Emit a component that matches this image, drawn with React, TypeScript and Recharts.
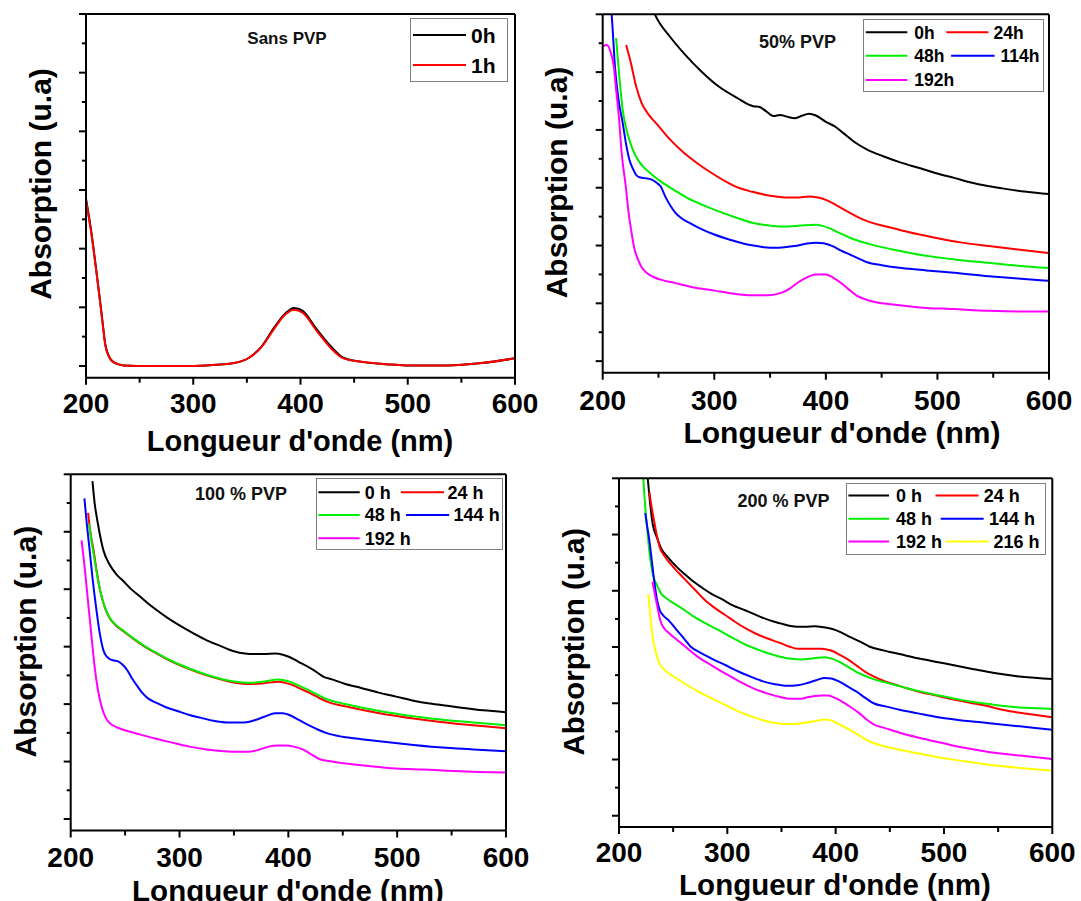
import React from 'react';
import { LineChart, Line, XAxis, YAxis, Legend } from 'recharts';

type Pt = [number, number];

// ---------- axes ----------
const X_TICKS = [200, 250, 300, 350, 400, 450, 500, 550, 600];
const X_DOMAIN: [number, number] = [200, 600];
const Y_TICKS = [0, 0.5, 1, 1.5, 2, 2.5, 3, 3.5, 4, 4.5, 5, 5.5, 6];
const Y_DOMAIN: [number, number] = [-0.2, 6];
const X_TITLE = "Longueur d'onde (nm)";
const Y_TITLE = 'Absorption (u.a)';

// ---------- data: [wavelength nm, absorption a.u.] ----------
// Sans PVP
const sans_0h: Pt[] = [[200,2.85],[205,2.28],[209,1.72],[213,1.13],[216,0.66],[218,0.37],[221,0.18],[226,0.06],[235,0.01],[260,0],[290,0],[312,0.01],[338,0.05],[352,0.14],[364,0.34],[376,0.67],[386,0.9],[394,0.99],[402,0.94],[415,0.63],[428,0.34],[440,0.14],[457,0.07],[480,0.03],[498,0.01],[537,0.01],[569,0.05],[600,0.13]];
const sans_1h: Pt[] = [[200,2.82],[205,2.25],[209,1.7],[213,1.11],[216,0.64],[218,0.35],[221,0.17],[226,0.06],[235,0.01],[260,0],[290,0],[312,0.01],[338,0.05],[352,0.14],[364,0.33],[376,0.65],[386,0.88],[394,0.96],[402,0.91],[415,0.6],[428,0.31],[440,0.13],[457,0.07],[480,0.03],[498,0.01],[537,0.01],[569,0.05],[600,0.13]];

// 50% PVP
const pvp50_0h: Pt[] = [[232,6.9],[240,6.35],[247,5.99],[260,5.62],[273,5.32],[288,5.02],[304,4.75],[320,4.56],[335,4.41],[340,4.4],[346,4.33],[353,4.24],[359,4.26],[365,4.23],[372,4.2],[378,4.24],[385,4.28],[391,4.25],[400,4.14],[408,4.06],[416,3.94],[425,3.8],[437,3.66],[452,3.54],[468,3.43],[484,3.34],[499,3.25],[515,3.17],[530,3.09],[545,3.03],[561,2.98],[580,2.93],[600,2.89]];
const pvp50_24h: Pt[] = [[221,5.47],[225,5.18],[230,4.75],[235,4.46],[241,4.27],[249,4.09],[260,3.84],[273,3.6],[285,3.42],[298,3.25],[310,3.11],[323,2.99],[334,2.93],[345,2.88],[355,2.85],[363,2.83],[374,2.83],[385,2.85],[393,2.83],[400,2.79],[410,2.69],[422,2.56],[431,2.47],[440,2.4],[454,2.33],[468,2.26],[484,2.19],[499,2.13],[522,2.05],[546,1.99],[572,1.93],[600,1.87]];
const pvp50_48h: Pt[] = [[212,5.59],[215,4.9],[218,4.34],[222,3.95],[227,3.66],[231,3.5],[236,3.37],[244,3.23],[252,3.11],[264,2.96],[276,2.82],[290,2.7],[304,2.59],[320,2.48],[335,2.39],[348,2.35],[360,2.33],[375,2.34],[391,2.36],[397,2.34],[403,2.3],[412,2.22],[422,2.13],[431,2.07],[440,2.02],[460,1.93],[484,1.84],[515,1.76],[546,1.7],[572,1.65],[600,1.61]];
const pvp50_114h: Pt[] = [[205,6.4],[208,6.0],[211,5.09],[214,4.55],[218,4.11],[221,3.75],[224,3.48],[227,3.33],[230,3.22],[233,3.18],[236,3.17],[240,3.16],[244,3.14],[248,3.09],[252,3.02],[256,2.85],[261,2.68],[265,2.57],[270,2.48],[279,2.38],[289,2.28],[300,2.19],[314,2.1],[325,2.04],[335,2.0],[345,1.97],[354,1.96],[363,1.97],[372,1.99],[382,2.03],[391,2.05],[398,2.04],[406,1.99],[414,1.91],[422,1.84],[430,1.77],[437,1.71],[450,1.66],[468,1.61],[490,1.57],[515,1.53],[546,1.47],[572,1.43],[600,1.39]];
const pvp50_192h: Pt[] = [[200.6,5.45],[203,5.47],[205,5.45],[207,5.35],[210,5.09],[212,4.7],[214.5,4.23],[217,3.6],[220.7,3.02],[223,2.6],[225.4,2.28],[228,1.98],[231.6,1.76],[235,1.62],[239.3,1.53],[245,1.46],[252,1.41],[265,1.35],[283,1.27],[300,1.22],[313,1.18],[325,1.15],[335,1.14],[348,1.14],[360,1.18],[368,1.26],[375,1.36],[383,1.45],[391,1.5],[400,1.5],[406,1.45],[413,1.36],[420,1.25],[428,1.13],[434,1.08],[440,1.04],[460,0.98],[484,0.93],[515,0.9],[546,0.87],[572,0.86],[600,0.86]];

// 100 % PVP
const pvp100_0h: Pt[] = [[220,5.88],[222,5.5],[225,5.14],[230,4.68],[236,4.42],[242,4.26],[249,4.13],[255,4.01],[262,3.9],[270,3.77],[278,3.65],[289,3.5],[300,3.37],[312,3.24],[325,3.11],[338,3.01],[350,2.92],[360,2.88],[369,2.87],[378,2.87],[388,2.88],[395,2.86],[401,2.82],[409,2.74],[417,2.66],[425,2.57],[432,2.48],[440,2.43],[451,2.36],[467,2.28],[483,2.2],[499,2.13],[515,2.06],[530,2.01],[546,1.97],[570,1.91],[600,1.86]];
const pvp100_24h: Pt[] = [[216,5.33],[218,5.0],[221,4.68],[224,4.3],[227,3.98],[231,3.7],[236,3.49],[242,3.36],[249,3.26],[258,3.13],[268,3.0],[280,2.87],[293,2.74],[309,2.61],[325,2.5],[340,2.42],[356,2.36],[366,2.35],[376,2.36],[391,2.39],[397,2.37],[404,2.33],[412,2.26],[420,2.19],[428,2.11],[436,2.04],[450,1.97],[467,1.9],[490,1.82],[515,1.75],[540,1.69],[570,1.63],[600,1.58]];
const pvp100_48h: Pt[] = [[217,5.14],[219,4.85],[221,4.62],[224,4.28],[227,3.98],[231,3.71],[236,3.5],[242,3.37],[249,3.27],[258,3.14],[268,3.01],[280,2.88],[293,2.75],[309,2.62],[325,2.51],[340,2.43],[356,2.38],[366,2.37],[376,2.39],[391,2.43],[397,2.41],[404,2.37],[412,2.3],[420,2.23],[428,2.15],[436,2.08],[450,2.01],[467,1.94],[490,1.86],[515,1.79],[540,1.73],[570,1.68],[600,1.63]];
const pvp100_144h: Pt[] = [[212.6,5.58],[215,5.1],[217.4,4.68],[220,4.2],[223.7,3.63],[227,3.2],[230,2.94],[233,2.83],[236.4,2.78],[240,2.76],[244,2.74],[248,2.68],[252,2.59],[256,2.46],[261.7,2.3],[266,2.19],[271,2.1],[279,2.02],[287,1.95],[298,1.88],[309,1.81],[320,1.76],[331,1.71],[344,1.68],[356.5,1.68],[363,1.69],[369,1.72],[378,1.78],[388,1.84],[395,1.84],[401,1.81],[410,1.72],[420,1.62],[428,1.55],[436,1.49],[450,1.43],[467,1.39],[490,1.34],[515,1.29],[545,1.24],[570,1.21],[600,1.18]];
const pvp100_192h: Pt[] = [[210,4.85],[213,4.35],[215.8,3.81],[219,3.2],[222,2.65],[225,2.25],[228.5,1.95],[232,1.77],[236.4,1.66],[242,1.6],[249,1.55],[262,1.48],[277.5,1.4],[293,1.33],[309,1.26],[325,1.21],[341,1.18],[352,1.17],[363,1.17],[372,1.2],[382,1.26],[390,1.28],[398,1.28],[405,1.26],[412,1.22],[420,1.14],[429,1.04],[440,1.0],[451,0.97],[475,0.92],[499,0.88],[525,0.86],[546,0.84],[575,0.82],[600,0.81]];

// 200 % PVP
const pvp200_0h: Pt[] = [[223,6.6],[226.5,6.0],[228.5,5.6],[231,5.2],[235,4.95],[239,4.75],[245,4.6],[253,4.43],[261,4.29],[269,4.16],[277,4.05],[285,3.95],[295,3.85],[304,3.75],[317,3.65],[330,3.54],[340,3.47],[349,3.42],[357,3.38],[365,3.36],[372,3.36],[381,3.37],[389,3.35],[397,3.32],[405,3.26],[412,3.19],[422,3.1],[431,3.01],[444,2.94],[460,2.87],[476,2.8],[492,2.74],[508,2.68],[524,2.62],[540,2.56],[556,2.51],[572,2.47],[600,2.43]];
const pvp200_24h: Pt[] = [[228,5.76],[230,5.5],[232.8,5.2],[235,4.98],[237.5,4.78],[242,4.62],[247,4.49],[255,4.32],[263,4.16],[271,4.0],[279,3.84],[288,3.7],[298,3.57],[307,3.45],[317,3.33],[326,3.24],[336,3.16],[343,3.11],[349,3.07],[357,3.01],[365,2.97],[375,2.97],[387,2.97],[393,2.95],[397,2.93],[404,2.86],[412,2.77],[420,2.66],[428,2.55],[436,2.47],[444,2.4],[460,2.3],[476,2.21],[492,2.14],[508,2.07],[524,2.01],[540,1.95],[555,1.88],[570,1.83],[585,1.79],[600,1.75]];
const pvp200_48h: Pt[] = [[219,6.5],[222.4,6.0],[224,5.55],[226.4,5.02],[228.5,4.62],[231,4.31],[235,4.1],[239,3.95],[245,3.85],[253,3.75],[261,3.65],[269,3.54],[280,3.42],[292,3.3],[304,3.17],[317,3.04],[330,2.94],[342.5,2.86],[355,2.8],[368,2.78],[380,2.8],[390,2.82],[397,2.79],[403,2.74],[411,2.65],[419,2.56],[427,2.49],[435,2.43],[444,2.38],[460,2.3],[476,2.22],[492,2.15],[508,2.09],[524,2.03],[540,1.99],[555,1.95],[575,1.92],[600,1.9]];
const pvp200_144h: Pt[] = [[224.2,5.38],[226,5.15],[228,4.9],[230.5,4.5],[232.8,4.13],[235,3.85],[237.5,3.66],[241,3.56],[245.5,3.48],[250,3.38],[253.4,3.3],[260,3.15],[266,3.01],[275,2.9],[285,2.8],[298,2.68],[310.7,2.56],[322,2.47],[333,2.39],[344,2.34],[355,2.31],[365,2.32],[374,2.36],[382,2.41],[390,2.45],[396,2.44],[403,2.39],[411,2.3],[419,2.21],[427,2.1],[435,2.0],[447,1.94],[460,1.88],[476,1.82],[492,1.76],[515,1.7],[540,1.65],[570,1.59],[600,1.53]];
const pvp200_192h: Pt[] = [[231,4.16],[233.5,3.9],[236,3.66],[238,3.48],[240.7,3.36],[246,3.25],[253.4,3.13],[263,2.98],[272.5,2.83],[285,2.68],[298,2.53],[311,2.39],[323.4,2.27],[336,2.18],[348.8,2.11],[358,2.08],[368,2.08],[375,2.11],[381,2.13],[387,2.14],[393,2.14],[400,2.09],[406,2.03],[414,1.93],[422,1.82],[428,1.72],[434.7,1.63],[447,1.55],[460,1.47],[476,1.39],[492,1.32],[508,1.25],[524,1.19],[540,1.14],[570,1.07],[600,1.01]];
const pvp200_216h: Pt[] = [[227,3.94],[229,3.55],[231,3.19],[233.5,2.95],[236,2.77],[239,2.66],[242.3,2.59],[250,2.48],[259.8,2.36],[272,2.22],[285,2.09],[298,1.97],[310.7,1.85],[323,1.76],[336,1.68],[347,1.64],[358.4,1.63],[370,1.65],[380.6,1.68],[390,1.71],[395,1.7],[400,1.66],[408,1.58],[415.6,1.5],[423,1.41],[431.5,1.32],[444,1.24],[460,1.17],[476,1.11],[492,1.05],[515,0.98],[540,0.91],[570,0.85],[600,0.8]];

// ---------- styling / layout ----------
const W = 1081;
const H = 901;
const FONT = "'Liberation Sans', Arial, Helvetica, sans-serif";
const C = { black: '#000000', red: '#ff0000', green: '#00ee00', blue: '#0000ff', magenta: '#ff00ff', yellow: '#ffff00' };

interface Series { name: string; color: string; data: Pt[] }
interface LegendPos { lx1: number; lx2: number; tx: number; ry: number }
interface PanelDef {
  title: string;
  series: Series[];
  plot: { l: number; t: number; r: number; b: number };
  xLabelDy: number;
  xTitle: { x: number; y: number; size: number };
  yTitle: { x: number; y: number; size: number };
  inner: { x: number; y: number; size: number };
  legend: { left: number; top: number; w: number; h: number; font: number; pos: LegendPos[] };
}

const panels: PanelDef[] = [
  {
    title: 'Sans PVP',
    series: [
      { name: '0h', color: C.black, data: sans_0h },
      { name: '1h', color: C.red, data: sans_1h },
    ],
    plot: { l: 86, t: 14, r: 515, b: 377.7 },
    xLabelDy: 35.5,
    xTitle: { x: 300, y: 451, size: 29 },
    yTitle: { x: 51, y: 184, size: 30 },
    inner: { x: 287, y: 44, size: 17 },
    legend: {
      left: 410, top: 18, w: 98, h: 64, font: 21,
      pos: [
        { lx1: 3, lx2: 56, tx: 61, ry: 17 },
        { lx1: 3, lx2: 56, tx: 61, ry: 47 },
      ],
    },
  },
  {
    title: '50% PVP',
    series: [
      { name: '0h', color: C.black, data: pvp50_0h },
      { name: '24h', color: C.red, data: pvp50_24h },
      { name: '48h', color: C.green, data: pvp50_48h },
      { name: '114h', color: C.blue, data: pvp50_114h },
      { name: '192h', color: C.magenta, data: pvp50_192h },
    ],
    plot: { l: 602.7, t: 14.3, r: 1049, b: 372.7 },
    xLabelDy: 37,
    xTitle: { x: 842, y: 443, size: 30 },
    yTitle: { x: 567, y: 182.5, size: 30 },
    inner: { x: 797.6, y: 48, size: 18 },
    legend: {
      left: 863, top: 19, w: 181, h: 73, font: 17.5,
      pos: [
        { lx1: 2.8, lx2: 44.3, tx: 51.2, ry: 13.3 },
        { lx1: 83.3, lx2: 125.4, tx: 130.6, ry: 13.3 },
        { lx1: 2.8, lx2: 44.3, tx: 51.2, ry: 36.7 },
        { lx1: 88.1, lx2: 131.6, tx: 137.5, ry: 36.7 },
        { lx1: 2.8, lx2: 44.3, tx: 51.2, ry: 61 },
      ],
    },
  },
  {
    title: '100 % PVP',
    series: [
      { name: '0 h', color: C.black, data: pvp100_0h },
      { name: '24 h', color: C.red, data: pvp100_24h },
      { name: '48 h', color: C.green, data: pvp100_48h },
      { name: '144 h', color: C.blue, data: pvp100_144h },
      { name: '192 h', color: C.magenta, data: pvp100_192h },
    ],
    plot: { l: 70.7, t: 474.3, r: 506, b: 830.5 },
    xLabelDy: 36.5,
    xTitle: { x: 288, y: 901, size: 29.5 },
    yTitle: { x: 36, y: 641.7, size: 30 },
    inner: { x: 241, y: 500, size: 18 },
    legend: {
      left: 316, top: 478, w: 186.5, h: 72, font: 18,
      pos: [
        { lx1: 2.4, lx2: 43.7, tx: 48.8, ry: 14.3 },
        { lx1: 84.9, lx2: 128, tx: 131.4, ry: 14.3 },
        { lx1: 2.4, lx2: 43.7, tx: 48.8, ry: 37 },
        { lx1: 90.1, lx2: 133.1, tx: 137.6, ry: 37 },
        { lx1: 2.4, lx2: 43.7, tx: 48.8, ry: 60.3 },
      ],
    },
  },
  {
    title: '200 % PVP',
    series: [
      { name: '0 h', color: C.black, data: pvp200_0h },
      { name: '24 h', color: C.red, data: pvp200_24h },
      { name: '48 h', color: C.green, data: pvp200_48h },
      { name: '144 h', color: C.blue, data: pvp200_144h },
      { name: '192 h', color: C.magenta, data: pvp200_192h },
      { name: '216 h', color: C.yellow, data: pvp200_216h },
    ],
    plot: { l: 619, t: 478.3, r: 1052.3, b: 827 },
    xLabelDy: 35,
    xTitle: { x: 835, y: 895, size: 29.5 },
    yTitle: { x: 584, y: 641.7, size: 29.5 },
    inner: { x: 783.5, y: 507, size: 18 },
    legend: {
      left: 845.6, top: 483.3, w: 200.7, h: 71.7, font: 18,
      pos: [
        { lx1: 2.4, lx2: 43, tx: 49.9, ry: 12.4 },
        { lx1: 89.5, lx2: 132.6, tx: 137.7, ry: 12.4 },
        { lx1: 2.4, lx2: 43, tx: 49.9, ry: 35.7 },
        { lx1: 94.7, lx2: 137.7, tx: 142.9, ry: 35.7 },
        { lx1: 2.4, lx2: 43, tx: 49.9, ry: 58.4 },
        { lx1: 99.8, lx2: 142.9, tx: 147.4, ry: 58.4 },
      ],
    },
  },
];

const toRows = (pts: Pt[]) => pts.map(([x, y]) => ({ x, y }));

const AXIS_LINE = { stroke: '#000', strokeWidth: 2 };
const AX = 1; // thickness reserved for each axis band (must be > 0 to render)

function makeXTick(dy: number) {
  return (props: any) => {
    const { x, y, payload } = props;
    const major = payload.value % 100 === 0;
    return (
      <g>
        <line x1={x} x2={x} y1={y} y2={y + (major ? 7 : 5)} stroke="#000" strokeWidth={2} />
        {major && (
          <text x={x} y={y + dy} textAnchor="middle" fontFamily={FONT} fontWeight={700} fontSize={28} fill="#000">
            {payload.value}
          </text>
        )}
      </g>
    );
  };
}

const YTick = (props: any) => {
  const { x, y, payload } = props;
  const len = Number.isInteger(payload.value) ? 7 : 4;
  return <line x1={x} x2={x - len} y1={y} y2={y} stroke="#000" strokeWidth={2} />;
};

function LegendBox({ p, payload }: { p: PanelDef; payload?: any[] }) {
  const lg = p.legend;
  return (
    <div
      style={{
        position: 'relative',
        width: lg.w,
        height: lg.h,
        boxSizing: 'border-box',
        border: '1px solid #808080',
        background: '#fff',
      }}
    >
      <svg width={lg.w} height={lg.h} style={{ position: 'absolute', left: -1, top: -1 }}>
        {p.series.map((s, i) => {
          const pos = lg.pos[i];
          const entry = (payload || []).find((e: any) => e.value === s.name);
          const color = entry && entry.color ? entry.color : s.color;
          return (
            <g key={s.name}>
              <line x1={pos.lx1} x2={pos.lx2} y1={pos.ry} y2={pos.ry} stroke={color} strokeWidth={2} />
              <text
                x={pos.tx}
                y={pos.ry + lg.font * 0.36}
                fontFamily={FONT}
                fontWeight={700}
                fontSize={lg.font}
                fill="#000"
              >
                {s.name}
              </text>
            </g>
          );
        })}
      </svg>
    </div>
  );
}

function Panel({ p }: { p: PanelDef }) {
  const { plot } = p;
  return (
    <div style={{ position: 'absolute', left: 0, top: 0, width: W, height: H }}>
      <LineChart
        width={W}
        height={H}
        margin={{ top: plot.t - AX, left: plot.l - AX, right: W - plot.r - AX, bottom: H - plot.b - AX }}
      >
        <XAxis
          xAxisId="b"
          dataKey="x"
          type="number"
          domain={X_DOMAIN}
          ticks={X_TICKS}
          interval={0}
          height={AX}
          tickSize={0}
          tickMargin={0}
          tickLine={false}
          axisLine={AXIS_LINE}
          tick={makeXTick(p.xLabelDy)}
          label={() => (
            <text
              x={p.xTitle.x}
              y={p.xTitle.y}
              textAnchor="middle"
              fontFamily={FONT}
              fontWeight={700}
              fontSize={p.xTitle.size}
              fill="#000"
            >
              {X_TITLE}
            </text>
          )}
        />
        <XAxis
          xAxisId="t"
          orientation="top"
          type="number"
          domain={X_DOMAIN}
          height={AX}
          tick={false}
          tickLine={false}
          axisLine={AXIS_LINE}
          label={() => (
            <text
              x={p.inner.x}
              y={p.inner.y}
              textAnchor="middle"
              fontFamily={FONT}
              fontWeight={700}
              fontSize={p.inner.size}
              fill="#111"
            >
              {p.title}
            </text>
          )}
        />
        <YAxis
          yAxisId="l"
          type="number"
          domain={Y_DOMAIN}
          ticks={Y_TICKS}
          interval={0}
          width={AX}
          tickSize={0}
          tickMargin={0}
          tickLine={false}
          axisLine={AXIS_LINE}
          tick={YTick}
          allowDataOverflow
          label={() => (
            <text
              x={p.yTitle.x}
              y={p.yTitle.y}
              transform={`rotate(-90, ${p.yTitle.x}, ${p.yTitle.y})`}
              textAnchor="middle"
              fontFamily={FONT}
              fontWeight={700}
              fontSize={p.yTitle.size}
              fill="#000"
            >
              {Y_TITLE}
            </text>
          )}
        />
        <YAxis
          yAxisId="r"
          orientation="right"
          type="number"
          domain={Y_DOMAIN}
          width={AX}
          tick={false}
          tickLine={false}
          axisLine={AXIS_LINE}
        />
        {p.series.map((s) => (
          <Line
            key={s.name}
            xAxisId="b"
            yAxisId="l"
            data={toRows(s.data)}
            dataKey="y"
            name={s.name}
            type="monotone"
            stroke={s.color}
            strokeWidth={2}
            dot={false}
            activeDot={false}
            isAnimationActive={false}
          />
        ))}
        <Legend
          layout="horizontal"
          verticalAlign="middle"
          align="center"
          wrapperStyle={{ left: p.legend.left, top: p.legend.top, width: p.legend.w, height: p.legend.h, margin: 0, padding: 0 }}
          content={(props: any) => <LegendBox p={p} payload={props.payload} />}
        />
      </LineChart>
    </div>
  );
}

export default function App() {
  return (
    <div
      style={{
        position: 'absolute',
        left: 0,
        top: 0,
        width: W,
        height: H,
        background: '#fff',
        overflow: 'hidden',
        fontFamily: FONT,
      }}
    >
      {panels.map((p) => (
        <Panel key={p.title} p={p} />
      ))}
    </div>
  );
}
